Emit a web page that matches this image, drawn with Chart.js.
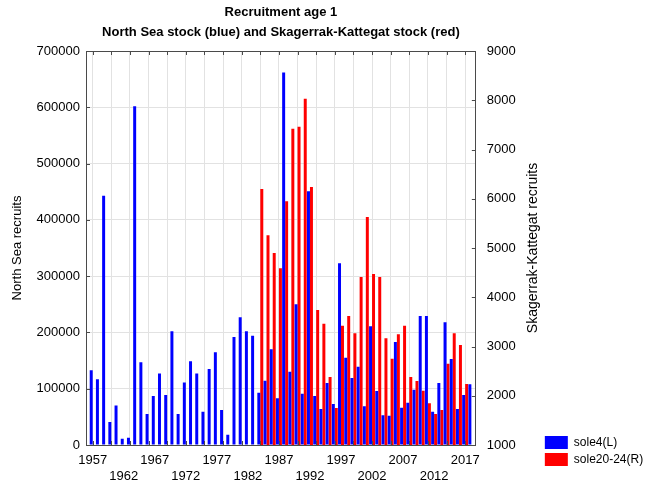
<!DOCTYPE html>
<html lang="en">
<head>
  <meta charset="UTF-8" />
  <title>Recruitment age 1</title>
  <script src="https://cdn.jsdelivr.net/npm/chart.js"></script>
  <style>
    body { margin: 0; background: #ffffff; }
    canvas { display: block; }
  </style>
</head>
<body>
  <canvas id="recruitChart" width="654" height="483"></canvas>

  <script>
    // year classes 1957-2018
    const years = [
      1957, 1958, 1959, 1960, 1961, 1962, 1963, 1964, 1965, 1966,
      1967, 1968, 1969, 1970, 1971, 1972, 1973, 1974, 1975, 1976,
      1977, 1978, 1979, 1980, 1981, 1982, 1983, 1984, 1985, 1986,
      1987, 1988, 1989, 1990, 1991, 1992, 1993, 1994, 1995, 1996,
      1997, 1998, 1999, 2000, 2001, 2002, 2003, 2004, 2005, 2006,
      2007, 2008, 2009, 2010, 2011, 2012, 2013, 2014, 2015, 2016,
      2017, 2018
    ];

    // North Sea recruits (left axis)
    const sole4 = [
      133000, 117000, 443000, 41000, 70000, 11000, 13000, 602000, 147000, 55000,
      87000, 127000, 89000, 202000, 55000, 111000, 149000, 127000, 59000, 135000,
      165000, 62000, 18000, 192000, 227000, 202000, 194000, 93000, 114000, 170000,
      83000, 662000, 130000, 250000, 91000, 451000, 87000, 64000, 110000, 73000,
      323000, 155000, 119000, 139000, 69000, 211000, 96000, 53000, 52000, 183000,
      66000, 75000, 98000, 229000, 229000, 59000, 110000, 218000, 153000, 64000,
      89000, 108000
    ];

    // Skagerrak-Kattegat recruits (right axis), series starts 1984
    const sole2024 = [
      null, null, null, null, null, null, null, null, null, null,
      null, null, null, null, null, null, null, null, null, null,
      null, null, null, null, null, null, null, 6200, 5260, 4900,
      4590, 5950, 7420, 7460, 8030, 6240, 3740, 3460, 2380, 1750,
      3420, 3620, 3270, 4410, 5630, 4470, 4410, 3170, 2750, 3250,
      3420, 2380, 2300, 2100, 1850, 1630, 1710, 2650, 3270, 3030,
      2240, null
    ];

    const gridYears = [1957, 1960, 1963, 1966, 1969, 1972, 1975, 1978, 1981, 1984,
      1987, 1990, 1993, 1996, 1999, 2002, 2005, 2008, 2011, 2014, 2017];
    // labels alternate between an upper and a lower row
    const labelYears = [1957, 1962, 1967, 1972, 1977, 1982, 1987, 1992, 1997, 2002, 2007, 2012, 2017];

    const FONT = "'Liberation Sans', Arial, sans-serif";
    const GRID = '#e2e2e2';
    const FRAME = '#4a4a4a';

    const lowerRow = v => labelYears.indexOf(v) % 2 === 1;

    // box round the plot, short inward ticks, and the right axis title read bottom-up
    const framePlugin = {
      id: 'frame',
      afterLayout(chart) {
        // lift the legend so it sits level with the bottom of the plot
        chart.legend.top -= 13;
        chart.legend.bottom -= 13;
      },
      afterDatasetsDraw(chart) {
        const { ctx, chartArea: a, scales } = chart;
        const t = 4;
        ctx.save();
        ctx.strokeStyle = FRAME;
        ctx.lineWidth = 1;
        ctx.strokeRect(Math.round(a.left) + 0.5, Math.round(a.top) + 0.5,
          Math.round(a.right - a.left) - 1, Math.round(a.bottom - a.top));
        ctx.beginPath();
        gridYears.forEach(yr => {
          const x = Math.round(scales.x.getPixelForValue(yr)) + 0.5;
          ctx.moveTo(x, a.top); ctx.lineTo(x, a.top + t);
          ctx.moveTo(x, a.bottom); ctx.lineTo(x, a.bottom - t);
        });
        scales.y.ticks.forEach(tk => {
          const y = Math.round(scales.y.getPixelForValue(tk.value)) + 0.5;
          ctx.moveTo(a.left, y); ctx.lineTo(a.left + t, y);
        });
        scales.y1.ticks.forEach(tk => {
          const y = Math.round(scales.y1.getPixelForValue(tk.value)) + 0.5;
          ctx.moveTo(a.right, y); ctx.lineTo(a.right - t, y);
        });
        ctx.stroke();

        ctx.translate(a.right + 57, (a.top + a.bottom) / 2);
        ctx.rotate(-Math.PI / 2);
        ctx.fillStyle = '#000';
        ctx.font = '14px ' + FONT;
        ctx.textAlign = 'center';
        ctx.textBaseline = 'middle';
        ctx.fillText('Skagerrak-Kattegat recruits', 0, 0);
        ctx.restore();
      }
    };

    new Chart(document.getElementById('recruitChart'), {
      type: 'bar',
      data: {
        labels: years,
        datasets: [
          { label: 'sole4(L)', data: sole4, backgroundColor: '#0000ff', yAxisID: 'y' },
          { label: 'sole20-24(R)', data: sole2024, backgroundColor: '#ff0000', yAxisID: 'y1' }
        ]
      },
      options: {
        responsive: false,
        animation: false,
        barPercentage: 1,
        categoryPercentage: 0.96,
        layout: { padding: { top: 0, right: 5, bottom: 0, left: 0 } },
        plugins: {
          title: {
            display: true,
            fullSize: false,
            text: ['Recruitment age 1', 'North Sea stock (blue) and Skagerrak-Kattegat stock (red)'],
            color: '#000',
            font: { family: FONT, size: 13, weight: 'bold', lineHeight: 1.5 },
            padding: { top: 3, bottom: 9 }
          },
          legend: {
            position: 'right',
            align: 'end',
            labels: {
              boxWidth: 23,
              boxHeight: 13,
              padding: 4,
              color: '#000',
              font: { family: FONT, size: 12 }
            }
          },
          tooltip: { enabled: false }
        },
        scales: {
          x: {
            type: 'linear',
            min: 1955.92,
            max: 2018.72,
            offset: false,
            afterBuildTicks: s => { s.ticks = years.map(v => ({ value: v })); },
            afterFit: s => { s.height = 38; },
            grid: {
              offset: false,
              drawTicks: false,
              color: c => gridYears.includes(c.tick && c.tick.value) ? GRID : 'rgba(0,0,0,0)'
            },
            border: { display: false },
            ticks: {
              autoSkip: false,
              minRotation: 0,
              maxRotation: 0,
              padding: 8,
              color: '#000',
              // the taller line box pushes every second label onto the lower row
              font: c => ({
                family: FONT,
                size: 13,
                lineHeight: c.tick && lowerRow(c.tick.value) ? 3.6 : 1.2
              }),
              callback: v => labelYears.includes(v) ? String(v) : ''
            }
          },
          y: {
            position: 'left',
            min: 0,
            max: 700000,
            afterFit: s => { s.width = 86; },
            grid: { color: GRID, drawTicks: false },
            border: { display: false },
            ticks: {
              stepSize: 100000,
              padding: 6,
              color: '#000',
              font: { family: FONT, size: 13 },
              callback: v => String(v)
            },
            title: {
              display: true,
              text: 'North Sea recruits',
              color: '#000',
              font: { family: FONT, size: 13 },
              padding: { top: 10, bottom: 0 }
            }
          },
          y1: {
            position: 'right',
            min: 1000,
            max: 9000,
            afterFit: s => { s.width = 65; },
            grid: { display: false, drawOnChartArea: false, drawTicks: false },
            border: { display: false },
            ticks: {
              stepSize: 1000,
              padding: 11,
              color: '#000',
              font: { family: FONT, size: 13 },
              callback: v => String(v)
            }
          }
        }
      },
      plugins: [framePlugin]
    });
  </script>
</body>
</html>
